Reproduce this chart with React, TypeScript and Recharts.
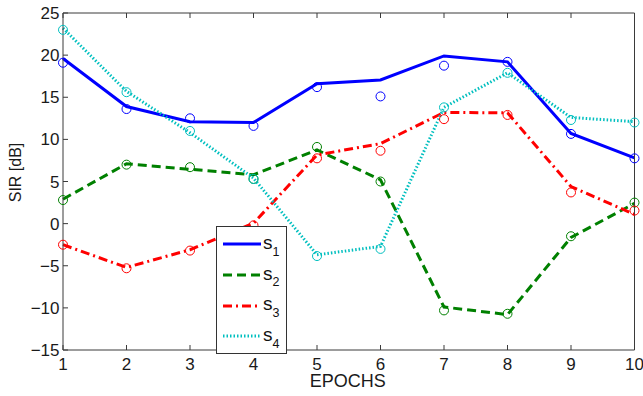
import React from 'react';
import { ComposedChart, Line, XAxis, YAxis, Legend, Label } from 'recharts';

// SIR per epoch: fitted curve and measured points for each source
const epochs = [1, 2, 3, 4, 5, 6, 7, 8, 9, 10];
const s1Line = [19.6, 13.9, 12.1, 12.0, 16.6, 17.05, 19.9, 19.2, 10.7, 7.8];
const s1Marks = [19.1, 13.6, 12.5, 11.6, 16.2, 15.1, 18.75, 19.2, 10.65, 7.75];
const s2Line = [2.9, 7.1, 6.45, 5.8, 8.75, 5.2, -9.9, -10.8, -1.65, 2.4];
const s2Marks = [2.8, 7.0, 6.7, 5.3, 9.1, 5.0, -10.3, -10.7, -1.5, 2.5];
const s3Line = [-2.5, -5.2, -3.1, 0.05, 8.15, 9.5, 13.2, 13.15, 4.4, 1.1];
const s3Marks = [-2.5, -5.3, -3.2, -0.2, 7.75, 8.65, 12.4, 12.9, 3.7, 1.55];
const s4Line = [23.2, 15.7, 10.8, 5.4, -3.7, -2.7, 13.8, 17.9, 12.6, 12.1];
const s4Marks = [23.0, 15.6, 11.0, 5.3, -3.85, -3.0, 13.8, 17.9, 12.3, 12.0];

const xTicks = [1, 2, 3, 4, 5, 6, 7, 8, 9, 10];
const yTicks = [-15, -10, -5, 0, 5, 10, 15, 20, 25];

const FONT = '"Liberation Sans", Arial, Helvetica, sans-serif';
const AXIS = '#3a3a3a';

const series = [
  { key: 's', n: '1', color: '#0000ff', dash: undefined, line: s1Line, marks: s1Marks, width: 3 },
  { key: 't', n: '2', color: '#008000', dash: '9 5', line: s2Line, marks: s2Marks, width: 3 },
  { key: 'u', n: '3', color: '#ff0000', dash: '9 4 2 4', line: s3Line, marks: s3Marks, width: 3 },
  { key: 'v', n: '4', color: '#00bfbf', dash: '1.5 2', line: s4Line, marks: s4Marks, width: 3 },
];

const data = epochs.map((e, i) => {
  const row: Record<string, number> = { epoch: e };
  series.forEach((s) => {
    row[s.key + 'L'] = s.line[i];
    row[s.key + 'M'] = s.marks[i];
  });
  return row;
});

const fmt = (v: number) => String(v).replace('-', '\u2212');

function LegendBox() {
  return (
    <div
      style={{
        width: 69,
        height: 124,
        border: '1px solid #333',
        background: '#fff',
        fontFamily: FONT,
        color: '#111',
        paddingTop: 2,
        boxSizing: 'content-box',
      }}
    >
      {series.map((s) => (
        <div key={s.key} style={{ height: 30.7, display: 'flex', alignItems: 'center' }}>
          <svg width={46} height={8} style={{ display: 'block' }}>
            <line x1={6} x2={44} y1={4} y2={4} stroke={s.color} strokeWidth={s.width} strokeDasharray={s.dash} />
          </svg>
          <span style={{ fontSize: 19, lineHeight: '19px', position: 'relative', top: -2 }}>
            s<sub style={{ fontSize: 12.5, position: 'relative', top: 2, verticalAlign: 'sub', lineHeight: 0 }}>{s.n}</sub>
          </span>
        </div>
      ))}
    </div>
  );
}

export default function App() {
  const tickStyle = { fontSize: 17, fill: '#1a1a1a', fontFamily: FONT };
  return (
    <div style={{ position: 'absolute', left: 0, top: 0, background: '#fff' }}>
      <ComposedChart width={643} height={396} data={data} margin={{ top: 12, right: 7.5, bottom: 16, left: 0 }}>
        <XAxis
          xAxisId="b"
          dataKey="epoch"
          type="number"
          domain={[1, 10]}
          ticks={xTicks}
          height={30}
          tickSize={-5}
          tickMargin={13}
          tick={tickStyle}
          stroke={AXIS}
          interval={0}
        >
          <Label
            content={({ viewBox }: any) => (
              <text
                x={viewBox.x + viewBox.width / 2 - 1}
                y={viewBox.y + 37}
                textAnchor="middle"
                fontSize={18}
                fontFamily={FONT}
                fill="#1a1a1a"
              >
                EPOCHS
              </text>
            )}
          />
        </XAxis>
        <XAxis
          xAxisId="t"
          orientation="top"
          type="number"
          dataKey="epoch"
          domain={[1, 10]}
          ticks={xTicks}
          height={1}
          tickSize={-5}
          tickFormatter={() => ''}
          stroke={AXIS}
        />
        <YAxis
          yAxisId="l"
          type="number"
          domain={[-15, 25]}
          ticks={yTicks}
          width={63}
          tickSize={-5}
          tickMargin={8.5}
          tick={tickStyle}
          tickFormatter={fmt}
          stroke={AXIS}
          interval={0}
        >
          <Label
            content={({ viewBox }: any) => {
              const cx = 15.5;
              const cy = viewBox.y + viewBox.height / 2 - 9;
              return (
                <text
                  x={cx}
                  y={cy}
                  transform={`rotate(-90 ${cx} ${cy})`}
                  textAnchor="middle"
                  dominantBaseline="central"
                  fontSize={16}
                  fontFamily={FONT}
                  fill="#1a1a1a"
                >
                  SIR [dB]
                </text>
              );
            }}
          />
        </YAxis>
        <YAxis
          yAxisId="r"
          orientation="right"
          type="number"
          domain={[-15, 25]}
          ticks={yTicks}
          width={1}
          tickSize={-5}
          tickFormatter={() => ''}
          stroke={AXIS}
        />
        {series.map((s) => (
          <Line
            key={s.key + 'L'}
            xAxisId="b"
            yAxisId="l"
            dataKey={s.key + 'L'}
            type="linear"
            stroke={s.color}
            strokeWidth={s.width}
            strokeDasharray={s.dash}
            dot={false}
            activeDot={false}
            isAnimationActive={false}
          />
        ))}
        {series.map((s) => (
          <Line
            key={s.key + 'M'}
            xAxisId="b"
            yAxisId="l"
            dataKey={s.key + 'M'}
            stroke="none"
            dot={{ r: 4.5, stroke: s.color, strokeWidth: 1, fill: 'none' }}
            activeDot={false}
            isAnimationActive={false}
          />
        ))}
        <Legend
          layout="vertical"
          align="center"
          verticalAlign="middle"
          content={() => <LegendBox />}
          wrapperStyle={{ left: 216, top: 226, width: 'auto' }}
        />
      </ComposedChart>
    </div>
  );
}
